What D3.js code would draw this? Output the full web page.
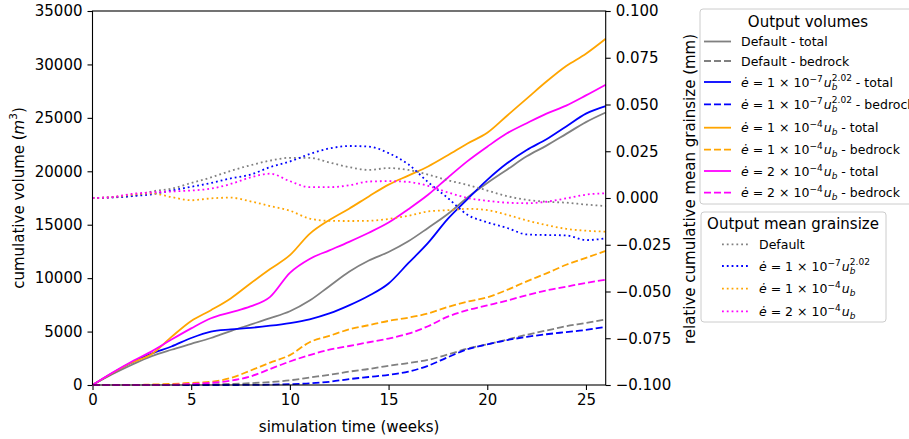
<!DOCTYPE html>
<html>
<head>
<meta charset="utf-8">
<script src="https://cdn.jsdelivr.net/npm/d3@7"></script>
<style>
  body { margin: 0; background: #fff; }
  svg { display: block; font-family: "DejaVu Sans", sans-serif; }
</style>
</head>
<body>
<svg id="chart" width="909" height="439"></svg>
<script>
// Data
const weeks = [0, 1, 2, 3, 4, 5, 6, 7, 8, 9, 10, 11, 12, 13, 14, 15, 16, 17, 18, 19, 20, 21, 22, 23, 24, 25, 26];

// cumulative volumes (m^3) - left axis
const defaultTotal   = [0, 1000, 1900, 2700, 3300, 3850, 4400, 5050, 5650, 6250, 6900, 7900, 9250, 10600, 11650, 12450, 13450, 14700, 16000, 17550, 18900, 20150, 21400, 22400, 23500, 24600, 25500];
const defaultBedrock = [0, 0, 0, 0, 0, 20, 50, 100, 170, 280, 440, 700, 950, 1250, 1500, 1800, 2050, 2350, 2850, 3400, 3800, 4250, 4700, 5100, 5500, 5800, 6150];
const powTotal       = [0, 1100, 2100, 2950, 3600, 4400, 5000, 5200, 5350, 5550, 5800, 6150, 6700, 7450, 8350, 9500, 11400, 13300, 15550, 17400, 19200, 20750, 22000, 23000, 24200, 25400, 26100];
const powBedrock     = [0, 0, 0, 0, 0, 0, 0, 0, 10, 30, 80, 150, 300, 550, 750, 950, 1250, 1800, 2600, 3350, 3800, 4200, 4500, 4750, 4950, 5150, 5450];
const lin1Total      = [0, 1100, 2100, 2900, 4500, 6000, 7000, 8100, 9500, 10850, 12150, 14150, 15450, 16500, 17650, 18750, 19600, 20450, 21500, 22600, 23600, 25200, 26800, 28400, 29850, 31000, 32400];
const lin1Bedrock    = [0, 0, 0, 50, 100, 200, 300, 650, 1350, 2100, 2800, 4000, 4600, 5200, 5600, 6000, 6300, 6700, 7300, 7800, 8200, 8900, 9700, 10450, 11250, 11900, 12550];
const lin2Total      = [0, 1150, 2200, 3150, 4250, 5300, 6250, 6800, 7350, 8250, 10500, 11800, 12600, 13400, 14250, 15200, 16450, 17800, 19400, 20950, 22300, 23550, 24500, 25400, 26150, 27100, 28100];
const lin2Bedrock    = [0, 0, 0, 0, 20, 100, 200, 400, 800, 1500, 2200, 2800, 3300, 3650, 4000, 4350, 4800, 5500, 6400, 7000, 7450, 7900, 8400, 8850, 9200, 9550, 9850];

// relative cumulative mean grainsize (mm) - right axis
const defaultGrain = [0, 0.0003, 0.001, 0.0035, 0.005, 0.008, 0.011, 0.0145, 0.0175, 0.02, 0.0215, 0.0215, 0.019, 0.0165, 0.015, 0.016, 0.015, 0.0125, 0.0095, 0.007, 0.004, 0.001, -0.001, -0.002, -0.0025, -0.0035, -0.0043];
const powGrain     = [0, 0.0003, 0.001, 0.002, 0.004, 0.006, 0.008, 0.0105, 0.0125, 0.0165, 0.0195, 0.0235, 0.0265, 0.0278, 0.0275, 0.024, 0.018, 0.0085, 0.0, -0.009, -0.013, -0.016, -0.0195, -0.0198, -0.02, -0.0225, -0.0216];
const lin1Grain    = [0, 0.0005, 0.0018, 0.0025, 0.0005, -0.0012, -0.0002, 0.0002, -0.0018, -0.0043, -0.0068, -0.011, -0.0122, -0.0123, -0.0122, -0.0112, -0.0095, -0.0072, -0.0065, -0.0058, -0.0065, -0.009, -0.012, -0.0145, -0.0165, -0.0175, -0.018];
const lin2Grain    = [0, 0.0005, 0.0022, 0.003, 0.0035, 0.004, 0.005, 0.0075, 0.011, 0.013, 0.009, 0.0058, 0.0058, 0.0068, 0.0088, 0.009, 0.0086, 0.0065, 0.003, 0.0, -0.0015, -0.0025, -0.0028, -0.002, -0.0002, 0.0018, 0.0025];

const xTicks     = [0, 5, 10, 15, 20, 25];
const volTicks   = [0, 5000, 10000, 15000, 20000, 25000, 30000, 35000];
const grainTicks = [-0.1, -0.075, -0.05, -0.025, 0, 0.025, 0.05, 0.075, 0.1];

// label pieces: factor, exponent, power-law?
const laws = {
    pow:  { f: "1", e: "−7", pow: true },
    lin1: { f: "1", e: "−4", pow: false },
    lin2: { f: "2", e: "−4", pow: false }
};

const volSeries = [
    { values: defaultTotal,   color: "gray",    dash: null,  law: null,   kind: "total" },
    { values: defaultBedrock, color: "gray",    dash: "7,3", law: null,   kind: "bedrock" },
    { values: powTotal,       color: "blue",    dash: null,  law: "pow",  kind: "total" },
    { values: powBedrock,     color: "blue",    dash: "7,3", law: "pow",  kind: "bedrock" },
    { values: lin1Total,      color: "orange",  dash: null,  law: "lin1", kind: "total" },
    { values: lin1Bedrock,    color: "orange",  dash: "7,3", law: "lin1", kind: "bedrock" },
    { values: lin2Total,      color: "magenta", dash: null,  law: "lin2", kind: "total" },
    { values: lin2Bedrock,    color: "magenta", dash: "7,3", law: "lin2", kind: "bedrock" }
];
const grainSeries = [
    { values: defaultGrain, color: "gray",    law: null },
    { values: powGrain,     color: "blue",    law: "pow" },
    { values: lin1Grain,    color: "orange",  law: "lin1" },
    { values: lin2Grain,    color: "magenta", law: "lin2" }
];

// Configuration
const margin = { top: 11, left: 92.5 };
const width  = 513.2;
const height = 374;

const svg = d3.select("#chart");
const g = svg.append("g").attr("transform", `translate(${margin.left},${margin.top})`);

const x = d3.scaleLinear().domain([0, 26]).range([0, width]);
const yVol = d3.scaleLinear().domain([0, 35000]).range([height, 0]);
const yGrain = d3.scaleLinear().domain([-0.1, 0.1]).range([height, 0]);

// Axes
function styleAxis(sel) {
    sel.selectAll("text").attr("font-size", "15px").attr("font-family", "DejaVu Sans").attr("fill", "#000");
    sel.selectAll("line").attr("stroke", "#000").attr("stroke-width", 1.1);
    sel.select(".domain").remove();
}

g.append("g").attr("transform", `translate(0,${height})`)
    .call(d3.axisBottom(x).tickValues(xTicks).tickSize(5).tickPadding(4).tickSizeOuter(0))
    .call(styleAxis);

g.append("g")
    .call(d3.axisLeft(yVol).tickValues(volTicks).tickFormat(d3.format("d")).tickSize(5).tickPadding(5).tickSizeOuter(0))
    .call(styleAxis);

g.append("g").attr("transform", `translate(${width},0)`)
    .call(d3.axisRight(yGrain).tickValues(grainTicks).tickFormat(d3.format(".3f")).tickSize(5).tickPadding(5).tickSizeOuter(0))
    .call(styleAxis);

// Axis labels
g.append("text")
    .attr("x", width / 2).attr("y", height + 47)
    .attr("text-anchor", "middle").attr("font-size", "15px")
    .text("simulation time (weeks)");

const yl = g.append("text")
    .attr("transform", `translate(${19 - margin.left},${height / 2}) rotate(-90)`)
    .attr("text-anchor", "middle").attr("dominant-baseline", "central")
    .attr("font-size", "15px");
yl.append("tspan").text("cumulative volume (");
yl.append("tspan").attr("font-style", "italic").text("m");
yl.append("tspan").attr("dy", -6).attr("font-size", "10.5px").text("3");
yl.append("tspan").attr("dy", 6).text(")");

g.append("text")
    .attr("transform", `translate(${690 - margin.left},${height / 2 - 9}) rotate(-90)`)
    .attr("text-anchor", "middle").attr("dominant-baseline", "central")
    .attr("font-size", "15px")
    .text("relative cumulative mean grainsize (mm)");

// Lines
const lineVol = d3.line()
    .x((d, i) => x(weeks[i]))
    .y(d => yVol(d))
    .curve(d3.curveMonotoneX);

const lineGrain = d3.line()
    .x((d, i) => x(weeks[i]))
    .y(d => yGrain(d))
    .curve(d3.curveMonotoneX);

volSeries.forEach(s => {
    g.append("path")
        .attr("d", lineVol(s.values))
        .attr("fill", "none")
        .attr("stroke", s.color)
        .attr("stroke-width", 1.8)
        .attr("stroke-dasharray", s.dash);
});

grainSeries.forEach(s => {
    g.append("path")
        .attr("d", lineGrain(s.values))
        .attr("fill", "none")
        .attr("stroke", s.color)
        .attr("stroke-width", 1.8)
        .attr("stroke-dasharray", "1.8,3");
});

// Frame
g.append("rect")
    .attr("width", width).attr("height", height)
    .attr("fill", "none").attr("stroke", "#000").attr("stroke-width", 1.1);

// Label writer: plain text or e-dot math text
function writeLabel(text, law, suffix) {
    if (!law) { text.append("tspan").text("Default" + suffix); return; }
    const L = laws[law];
    text.append("tspan").attr("font-style", "italic").text("ė");
    text.append("tspan").text(` = ${L.f} × 10`);
    text.append("tspan").attr("dy", -5).attr("font-size", "9px").text(L.e);
    text.append("tspan").attr("dy", 5).attr("dx", 1).attr("font-style", "italic").text("u");
    text.append("tspan").attr("dy", 3).attr("font-size", "9px").attr("font-style", "italic").text("b");
    if (L.pow) {
        text.append("tspan").attr("dy", -9).attr("dx", -5.5).attr("font-size", "9px").text("2.02");
        text.append("tspan").attr("dy", 6).text(suffix);
    } else {
        text.append("tspan").attr("dy", -3).text(suffix);
    }
}

// Legend 1: volumes
const leg1 = svg.append("g");
leg1.append("rect")
    .attr("x", 700).attr("y", 9).attr("width", 240).attr("height", 195).attr("rx", 3)
    .attr("fill", "#fff").attr("fill-opacity", 0.8).attr("stroke", "#ccc");
leg1.append("text").attr("x", 808).attr("y", 27).attr("text-anchor", "middle")
    .attr("font-size", "15px").text("Output volumes");
const leg1Y = [41.5, 61, 82, 104.3, 127.7, 149.7, 171, 192.7];
volSeries.forEach((s, i) => {
    leg1.append("line")
        .attr("x1", 704).attr("x2", 731).attr("y1", leg1Y[i]).attr("y2", leg1Y[i])
        .attr("stroke", s.color).attr("stroke-width", 1.8).attr("stroke-dasharray", s.dash);
    const t = leg1.append("text").attr("x", 741).attr("y", leg1Y[i] + 4.5).attr("font-size", "12.5px");
    writeLabel(t, s.law, " - " + s.kind);
});

// Legend 2: grainsize
const leg2 = svg.append("g");
leg2.append("rect")
    .attr("x", 701).attr("y", 212).attr("width", 185).attr("height", 110).attr("rx", 3)
    .attr("fill", "#fff").attr("fill-opacity", 0.8).attr("stroke", "#ccc");
leg2.append("text").attr("x", 793).attr("y", 229).attr("text-anchor", "middle")
    .attr("font-size", "15px").text("Output mean grainsize");
const leg2Y = [244.3, 266, 288.7, 311.3];
grainSeries.forEach((s, i) => {
    leg2.append("line")
        .attr("x1", 722).attr("x2", 748).attr("y1", leg2Y[i]).attr("y2", leg2Y[i])
        .attr("stroke", s.color).attr("stroke-width", 1.8).attr("stroke-dasharray", "1.8,3");
    const t = leg2.append("text").attr("x", 759).attr("y", leg2Y[i] + 4.5).attr("font-size", "12.5px");
    writeLabel(t, s.law, "");
});
</script>
</body>
</html>
